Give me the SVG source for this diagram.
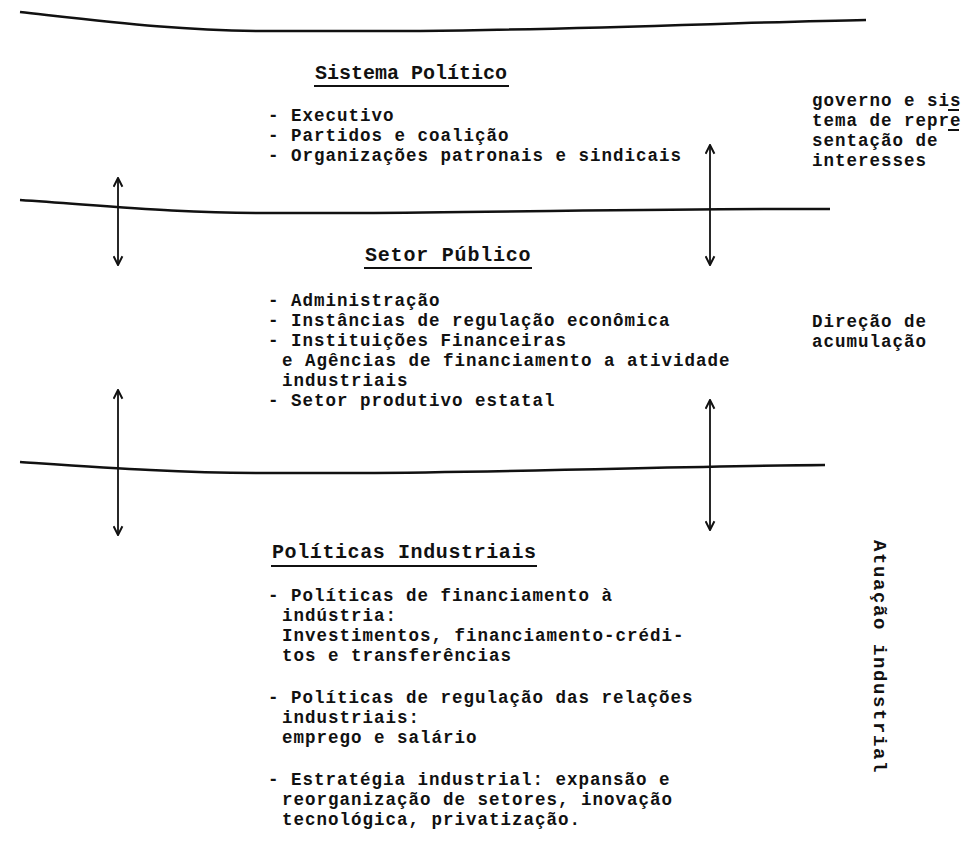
<svg xmlns="http://www.w3.org/2000/svg" width="966" height="850" viewBox="0 0 966 850">
<style>
.t{font-family:"Liberation Mono","Courier New",monospace;font-size:17.5px;letter-spacing:1px;font-weight:bold;fill:#111}
.h{font-family:"Liberation Mono","Courier New",monospace;font-size:20px;font-weight:bold;fill:#111}
.band{fill:none;stroke:#111;stroke-width:2.5}
.arr{fill:none;stroke:#111;stroke-width:1.8}
.ul{stroke:#111;stroke-width:2}
</style>
<defs>
<marker id="ah" viewBox="0 0 10 10" refX="9" refY="5" markerWidth="11" markerHeight="11" markerUnits="userSpaceOnUse" orient="auto-start-reverse">
<path d="M1,1 L9,5 L1,9" fill="none" stroke="#111" stroke-width="1.8"/>
</marker>
</defs>
<g id="bands">
<path class="band" d="M20,12 C110,22 180,31 270,31 L420,31 C600,29 750,22 866,20"/>
<path class="band" d="M20,200 C110,206 180,213 260,213 L360,213 C520,212 700,208 830,209"/>
<path class="band" d="M20,462 C110,468 180,473 260,473 L360,473 C520,472 700,466 825,465"/>
</g>
<g id="connectors">
<line class="arr" x1="118" y1="178" x2="118" y2="265" marker-start="url(#ah)" marker-end="url(#ah)"/>
<line class="arr" x1="710" y1="145" x2="710" y2="265" marker-start="url(#ah)" marker-end="url(#ah)"/>
<line class="arr" x1="118" y1="390" x2="118" y2="535" marker-start="url(#ah)" marker-end="url(#ah)"/>
<line class="arr" x1="710" y1="400" x2="710" y2="530" marker-start="url(#ah)" marker-end="url(#ah)"/>
</g>
<g id="sistema-politico">
<text class="h" x="315" y="79">Sistema Político</text>
<line class="ul" x1="314" y1="86" x2="509" y2="86"/>
<text class="t" x="268" y="121">- Executivo</text>
<text class="t" x="268" y="141">- Partidos e coalição</text>
<text class="t" x="268" y="161">- Organizações patronais e sindicais</text>
</g>
<g id="setor-publico">
<text class="h" x="365" y="261" letter-spacing="0.8">Setor Público</text>
<line class="ul" x1="364" y1="268" x2="532" y2="268"/>
<text class="t" x="268" y="306">- Administração</text>
<text class="t" x="268" y="326">- Instâncias de regulação econômica</text>
<text class="t" x="268" y="346">- Instituições Financeiras</text>
<text class="t" x="282" y="366">e Agências de financiamento a atividade</text>
<text class="t" x="282" y="386">industriais</text>
<text class="t" x="268" y="406">- Setor produtivo estatal</text>
</g>
<g id="politicas-industriais">
<text class="h" x="272" y="558" letter-spacing="0.6">Políticas Industriais</text>
<line class="ul" x1="271" y1="566" x2="537" y2="566"/>
<text class="t" x="268" y="601">- Políticas de financiamento à</text>
<text class="t" x="282" y="621">indústria:</text>
<text class="t" x="282" y="641">Investimentos, financiamento-crédi-</text>
<text class="t" x="282" y="661">tos e transferências</text>
<text class="t" x="268" y="703">- Políticas de regulação das relações</text>
<text class="t" x="282" y="723">industriais:</text>
<text class="t" x="282" y="743">emprego e salário</text>
<text class="t" x="268" y="785">- Estratégia industrial: expansão e</text>
<text class="t" x="282" y="805">reorganização de setores, inovação</text>
<text class="t" x="282" y="825">tecnológica, privatização.</text>
</g>
<g id="label-governo">
<text class="t" x="812" y="106">governo e sis</text>
<text class="t" x="812" y="126">tema de repre</text>
<text class="t" x="812" y="146">sentação   de</text>
<text class="t" x="812" y="166">interesses</text>
<line class="ul" x1="948" y1="110" x2="959" y2="110"/>
<line class="ul" x1="948" y1="130" x2="959" y2="130"/>
</g>
<g id="label-direcao">
<text class="t" x="812" y="327">Direção de</text>
<text class="t" x="812" y="347">acumulação</text>
</g>
<g id="label-atuacao">
<text class="t" transform="translate(874,540) rotate(90)" style="font-size:19px;letter-spacing:1.6px">Atuação industrial</text>
</g>
</svg>
